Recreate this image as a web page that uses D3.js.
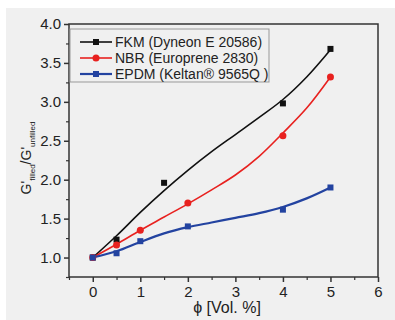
<!DOCTYPE html>
<html>
<head>
<meta charset="utf-8">
<script src="https://cdn.jsdelivr.net/npm/d3@7"></script>
<style>
  body { margin: 0; background: #fff; }
  text { font-family: "Liberation Sans", Arial, sans-serif; fill: #222; }
</style>
</head>
<body>
<div id="chart"></div>
<script>
// measured points
var seriesNames = ["FKM (Dyneon E 20586)", "NBR (Europrene 2830)", "EPDM (Keltan\u00AE 9565Q )"]
var seriesColors = ["#111111", "#e8211f", "#2343a0"]
var seriesShapes = ["square", "circle", "square"]

var fkmX = [0, 0.5, 1.5, 4, 5]
var fkmY = [1.0, 1.23, 1.96, 2.98, 3.68]
var nbrX = [0, 0.5, 1, 2, 4, 5]
var nbrY = [1.0, 1.16, 1.35, 1.70, 2.565, 3.32]
var epdmX = [0, 0.5, 1, 2, 4, 5]
var epdmY = [1.0, 1.055, 1.21, 1.40, 1.615, 1.90]

// fitted curves
var fitX = [0, 0.5, 1, 1.5, 2, 2.5, 3, 3.5, 4, 4.5, 5]
var fkmFit = [1.0, 1.28, 1.58, 1.86, 2.12, 2.36, 2.58, 2.8, 3.03, 3.32, 3.67]
var nbrFit = [1.0, 1.17, 1.35, 1.52, 1.69, 1.87, 2.06, 2.3, 2.6, 2.92, 3.32]
var epdmFit = [1.0, 1.08, 1.2, 1.31, 1.39, 1.45, 1.51, 1.57, 1.65, 1.76, 1.90]

var xTicks = [0, 1, 2, 3, 4, 5, 6]
var yTicks = [1.0, 1.5, 2.0, 2.5, 3.0, 3.5, 4.0]

var pointsX = [fkmX, nbrX, epdmX]
var pointsY = [fkmY, nbrY, epdmY]
var fits = [fkmFit, nbrFit, epdmFit]

var width = 395
var height = 320
var margin = {left: 69, right: 17, top: 24, bottom: 43}

var svg = d3.select("#chart")
  .append("svg")
    .attr("width", width)
    .attr("height", height)

// grey panel behind everything
svg.append("rect")
  .attr("x", 6)
  .attr("y", 8)
  .attr("width", width - 6)
  .attr("height", height - 8)
  .attr("fill", "#f0f0f0")

var x = d3.scaleLinear()
  .domain([-0.5, 6])
  .range([margin.left, width - margin.right])

var y = d3.scaleLinear()
  .domain([0.75, 4.0])
  .range([height - margin.bottom, margin.top])

// frame
svg.append("rect")
  .attr("x", x(-0.5))
  .attr("y", y(4.0))
  .attr("width", x(6) - x(-0.5))
  .attr("height", y(0.75) - y(4.0))
  .attr("fill", "none")
  .attr("stroke", "#333")
  .attr("stroke-width", 1.5)

// bottom axis, major + minor ticks
var xAxis = svg.append("g")
  .attr("transform", "translate(0," + y(0.75) + ")")
  .call(d3.axisBottom(x).tickValues(xTicks).tickSize(5).tickPadding(4).tickFormat(d3.format("d")))
xAxis.select(".domain").remove()
xAxis.selectAll("line").attr("stroke", "#333").attr("stroke-width", 1.5)
xAxis.selectAll("text").style("font-size", "15px").attr("fill", "#222")

var xMinor = svg.append("g")
  .attr("transform", "translate(0," + y(0.75) + ")")
  .call(d3.axisBottom(x).tickValues(d3.range(-0.5, 6, 1)).tickSize(3).tickFormat(""))
xMinor.select(".domain").remove()
xMinor.selectAll("line").attr("stroke", "#333").attr("stroke-width", 1.2)

// left axis
var yAxis = svg.append("g")
  .attr("transform", "translate(" + x(-0.5) + ",0)")
  .call(d3.axisLeft(y).tickValues(yTicks).tickSize(5).tickPadding(3).tickFormat(d3.format(".1f")))
yAxis.select(".domain").remove()
yAxis.selectAll("line").attr("stroke", "#333").attr("stroke-width", 1.5)
yAxis.selectAll("text").style("font-size", "15px").attr("fill", "#222")

var yMinor = svg.append("g")
  .attr("transform", "translate(" + x(-0.5) + ",0)")
  .call(d3.axisLeft(y).tickValues(d3.range(0.75, 4.0, 0.5)).tickSize(3).tickFormat(""))
yMinor.select(".domain").remove()
yMinor.selectAll("line").attr("stroke", "#333").attr("stroke-width", 1.2)

// fitted lines
var line = d3.line()
  .x(function(d) { return x(d[0]) })
  .y(function(d) { return y(d[1]) })
  .curve(d3.curveCatmullRom.alpha(0.5))

fits.forEach(function(f, i) {
  svg.append("path")
    .datum(fitX.map(function(v, j) { return [v, f[j]] }))
    .attr("fill", "none")
    .attr("stroke", seriesColors[i])
    .attr("stroke-width", i == 2 ? 2.2 : 1.6)
    .attr("d", line)
})

// markers
function drawMarker(g, shape, cx, cy, color) {
  if (shape == "square") {
    g.append("rect")
      .attr("x", cx - 3)
      .attr("y", cy - 3)
      .attr("width", 6)
      .attr("height", 6)
      .attr("fill", color)
  } else {
    g.append("circle")
      .attr("cx", cx)
      .attr("cy", cy)
      .attr("r", 3.5)
      .attr("fill", color)
  }
}

var marks = svg.append("g")
pointsX.forEach(function(xs, i) {
  xs.forEach(function(v, j) {
    drawMarker(marks, seriesShapes[i], x(v), y(pointsY[i][j]), seriesColors[i])
  })
})

// legend
var legend = svg.append("g").attr("transform", "translate(70,29)")
legend.append("rect")
  .attr("width", 199)
  .attr("height", 53)
  .attr("fill", "#f0f0f0")
  .attr("stroke", "#999")
  .attr("stroke-width", 1)

seriesNames.forEach(function(name, i) {
  var ly = 13 + i * 16
  legend.append("line")
    .attr("x1", 10).attr("x2", 42)
    .attr("y1", ly).attr("y2", ly)
    .attr("stroke", seriesColors[i])
    .attr("stroke-width", i == 2 ? 2.2 : 1.6)
  drawMarker(legend, seriesShapes[i], 26, ly, seriesColors[i])
  legend.append("text")
    .attr("x", 45)
    .attr("y", ly + 5)
    .style("font-size", "14px")
    .text(name)
})

// axis titles
var yTitle = svg.append("text")
  .attr("transform", "translate(31," + 158 + ") rotate(-90)")
  .attr("text-anchor", "middle")
  .style("font-size", "14px")
yTitle.append("tspan").text("G'")
yTitle.append("tspan").attr("dy", 4).style("font-size", "8px").text("filled")
yTitle.append("tspan").attr("dy", -4).text("/G'")
yTitle.append("tspan").attr("dy", 4).style("font-size", "8px").text("unfilled")

svg.append("text")
  .attr("x", 227)
  .attr("y", 313)
  .attr("text-anchor", "middle")
  .style("font-size", "16px")
  .text("\u03D5 [Vol. %]")
</script>
</body>
</html>
